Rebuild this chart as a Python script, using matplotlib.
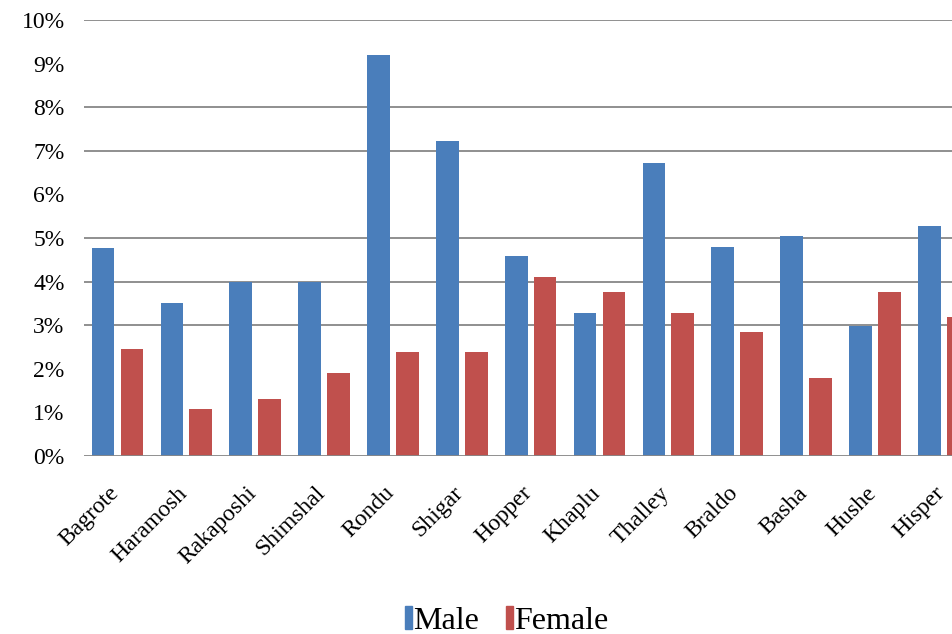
import matplotlib
matplotlib.use("Agg")
import matplotlib.pyplot as plt
import matplotlib.transforms as mtransforms
import numpy as np
from matplotlib.patches import Patch

categories = ["Bagrote", "Haramosh", "Rakaposhi", "Shimshal", "Rondu", "Shigar",
              "Hopper", "Khaplu", "Thalley", "Braldo", "Basha", "Hushe", "Hisper"]
male = [4.78, 3.50, 4.00, 4.00, 9.20, 7.22, 4.59, 3.27, 6.71, 4.79, 5.05, 2.99, 5.28]
female = [2.45, 1.07, 1.30, 1.90, 2.39, 2.39, 4.10, 3.77, 3.27, 2.85, 1.80, 3.77, 3.19]
yticks = [0, 1, 2, 3, 4, 5, 6, 7, 8, 9, 10]
ytick_labels = ["0%", "1%", "2%", "3%", "4%", "5%", "6%", "7%", "8%", "9%", "10%"]
visible_grid = [3, 4, 5, 7, 8, 10]

BLUE = "#4A7EBB"
RED = "#C0504D"
FONT = "Liberation Serif"

fig = plt.figure(figsize=(9.52, 6.34), dpi=100)
ax = fig.add_axes([84/952, 1-456/634, (952-84)/952, (456-20)/634])

x = np.arange(len(categories))
w = 0.33
off = 0.21
ax.bar(x - off, male, width=w, color=BLUE, zorder=3)
ax.bar(x + off, female, width=w, color=RED, zorder=3)

for g in visible_grid:
    ax.axhline(g, color="#878787", lw=1.3, zorder=1)
ax.axhline(0, color="#878787", lw=1.3, zorder=4)

ax.set_ylim(0, 10)
ax.set_xlim(-0.487, 12.12)
ax.set_yticks(yticks)
ax.set_yticklabels(ytick_labels, fontsize=17, family=FONT)
ax.set_xticks(x)
ax.set_xticklabels(categories, rotation=45, ha="right", va="center",
                   rotation_mode="anchor", fontsize=17, family=FONT)
ax.tick_params(axis="both", length=0)
ax.tick_params(axis="y", pad=14)
ax.tick_params(axis="x", pad=0)
shift = mtransforms.ScaledTranslation(-2/100, -34/100, fig.dpi_scale_trans)
for lab in ax.get_xticklabels():
    lab.set_transform(lab.get_transform() + shift)
for s in ax.spines.values():
    s.set_visible(False)

handles = [Patch(color=BLUE, label="Male"), Patch(color=RED, label="Female")]
fig.legend(handles=handles, loc="center", bbox_to_anchor=(507/952, 1-621/634),
           ncol=2, frameon=False, prop={"family": FONT, "size": 23},
           handlelength=0.2, handleheight=0.75, handletextpad=0.05,
           columnspacing=0.85, borderpad=0.0)

fig.savefig("out.png", dpi=100)
